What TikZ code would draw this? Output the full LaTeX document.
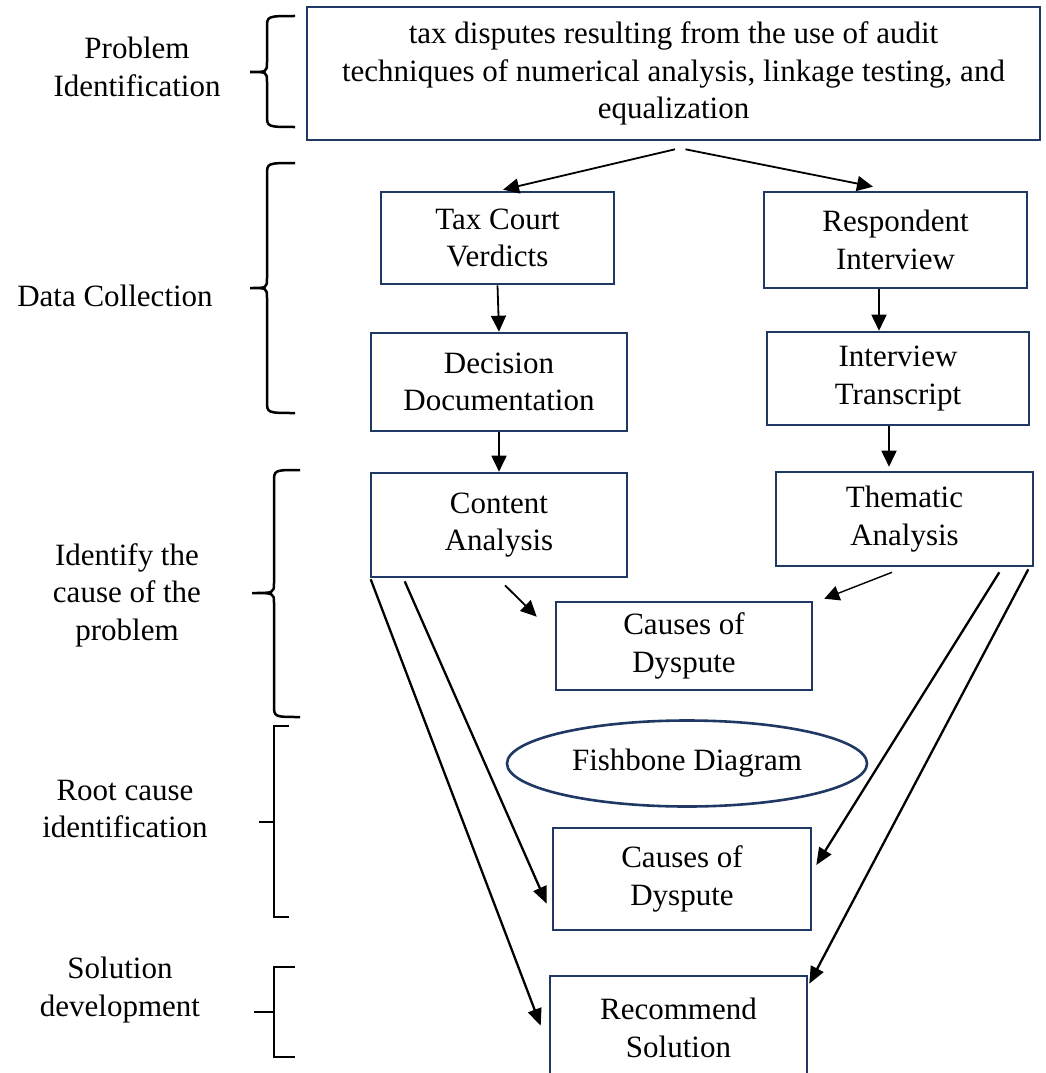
\documentclass[tikz,border=0pt]{standalone}
\usepackage{fontspec}
\setmainfont{Liberation Serif}
\usetikzlibrary{arrows.meta,shapes.geometric,calc}
\definecolor{navy}{RGB}{31,56,100}
\begin{document}
\begin{tikzpicture}[x=1pt,y=-1pt,
  every node/.style={font=\fontsize{31}{37.5}\selectfont, align=center, inner sep=0pt},
  box/.style={draw=navy, line width=2.6pt, minimum width=#1},
  bracket/.style={draw=black, line width=2.5pt},
  arr/.style={draw=black, line width=1.8pt, -{Triangle[length=16pt,width=15pt]}},
  longarr/.style={draw=black, line width=2.3pt, -{Triangle[length=17pt,width=14pt]}},
  thinarr/.style={draw=black, line width=1.4pt, -{Triangle[length=15pt,width=15pt]}}]
\useasboundingbox (0,0) rectangle (1046,1073);
\fill[white] (0,0) rectangle (1046,1073);

% boxes
\node[box=733pt, minimum height=133pt] (top) at (673.5,73.5) {tax disputes resulting from the use of audit\\techniques of numerical analysis, linkage testing, and\\equalization};
\node[box=233pt, minimum height=92pt] (tax) at (497.5,238) {Tax Court\\Verdicts};
\node[box=263pt, minimum height=96pt] (resp) at (895.5,240) {Respondent\\Interview};
\node[box=256pt, minimum height=98pt] (dec) at (499,382) {Decision\\Documentation};
\node[box=262pt, minimum height=93pt] (trans) at (898,378.5) {Interview\\Transcript};
\node[box=256pt, minimum height=104pt] (cont) at (499,525) {Content\\Analysis};
\node[box=257pt, minimum height=94pt] (them) at (904.5,519) {Thematic\\Analysis};
\node[box=256pt, minimum height=88pt] (c1) at (684,646) {Causes of\\Dyspute};
\node[draw=navy, line width=2.6pt, ellipse, minimum width=360pt, minimum height=86pt] (fish) at (687,763.5) {Fishbone Diagram};
\node[box=258pt, minimum height=102pt] (c2) at (682,879) {Causes of\\Dyspute};
\node[box=257pt, minimum height=104pt] (rec) at (678.5,1028) {Recommend\\Solution};

% left labels
\node (l1) at (137,67) {Problem\\Identification};
\node (l2) at (115,296) {Data Collection};
\node (l3) at (127,595) {Identify the\\cause of the\\problem};
\node (l4) at (125,809) {Root cause\\identification};
\node (l5) at (120,990) {Solution\\development};

% braces
\draw[bracket] (295,16) .. controls (267,16) .. (267,28) -- (267,62) .. controls (267,72) .. (250,72) .. controls (267,72) .. (267,82) -- (267,115) .. controls (267,127) .. (295,127);
\draw[bracket] (295,163) .. controls (267,163) .. (267,175) -- (267,278) .. controls (267,288) .. (250,288) .. controls (267,288) .. (267,298) -- (267,401) .. controls (267,413) .. (295,413);
\draw[bracket] (300,470) .. controls (274,470) .. (274,482) -- (274,583) .. controls (274,593) .. (252,593) .. controls (274,593) .. (274,603) -- (274,705) .. controls (274,717) .. (300,717);
\draw[bracket] (289,726) -- (274,726) -- (274,917) -- (289,917);
\draw[bracket] (259,822) -- (274,822);
\draw[bracket] (295,967) -- (274,967) -- (274,1057) -- (295,1057);
\draw[bracket] (254,1012) -- (274,1012);

% connectors
\coordinate (ts1) at ($(top.south)+(1.5,8)$);
\coordinate (ts2) at ($(top.south)+(12,8)$);
\draw[arr] (ts1) -- ($(tax.north)+(5.5,-1)$);
\draw[arr] (ts2) -- ($(resp.north)+(-22.5,-4)$);
\draw[arr] (tax.south) -- (dec.north);
\draw[arr] (dec.south) -- (cont.north);
\draw[arr] ($(resp.south)+(-16.5,0)$) -- ($(trans.north)+(-19,0)$);
\draw[arr] ($(trans.south)+(-9,0)$) -- ($(them.north)+(-15.5,-4)$);
\draw[arr] ($(cont.south)+(6,7)$) -- ($(c1.north west)+(-18,16)$);
\draw[thinarr] ($(them.south)+(-12.5,5)$) -- ($(c1.north east)+(11,-2)$);
\draw[longarr] ($(cont.south west)+(1,1)$) -- ($(rec.north west)+(-8,51)$);
\draw[longarr] ($(cont.south west)+(35,3)$) -- ($(c2.north west)+(-5,77)$);
\draw[longarr] ($(them.south east)+(-35,5)$) -- ($(c2.east)+(4,-14)$);
\draw[longarr] ($(them.south east)+(-6,2)$) -- ($(rec.north east)+(1,9)$);
\end{tikzpicture}
\end{document}
